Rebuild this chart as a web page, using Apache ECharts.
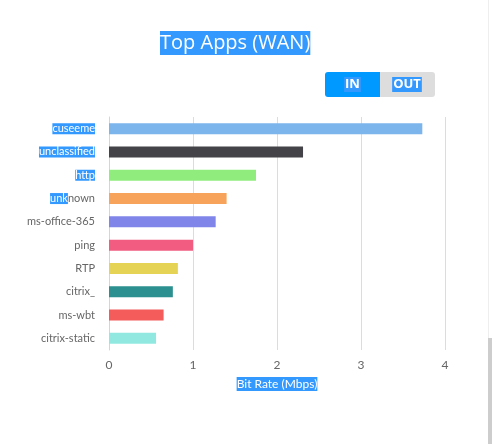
<!DOCTYPE html>
<html>
<head>
<meta charset="utf-8">
<script src="https://cdn.jsdelivr.net/npm/echarts@6/dist/echarts.min.js"></script>
<style>
html,body{margin:0;padding:0;background:#fff;}
#chart{width:492px;height:444px;}
</style>
</head>
<body>
<div id="chart"></div>
<script>
var categories = ['cuseeme', 'unclassified', 'http', 'unknown', 'ms-office-365', 'ping', 'RTP', 'citrix_', 'ms-wbt', 'citrix-static'];
var values = [3.73, 2.31, 1.75, 1.40, 1.27, 1.00, 0.82, 0.76, 0.65, 0.56];
var barColors = ['#7cb5ec', '#434348', '#90ed7d', '#f7a35c', '#8085e9', '#f15c80', '#e4d354', '#2b908f', '#f45b5b', '#91e8e1'];
var xTicks = [0, 1, 2, 3, 4];

var SEL = '#3399ff';
var FONT = 'Lato';

var chart = echarts.init(document.getElementById('chart'), null, {renderer: 'canvas'});

function yLabel(v) {
  if (v === 'cuseeme' || v === 'unclassified' || v === 'http') return '{h|' + v + '}';
  if (v === 'unknown') return '{h|unk}{n|nown}';
  return '{n|' + v + '}';
}

chart.setOption({
  animation: false,
  grid: {left: 109, right: 47, top: 117, bottom: 94, containLabel: false},
  xAxis: {
    type: 'value',
    min: xTicks[0],
    max: xTicks[xTicks.length - 1],
    interval: 1,
    name: 'Bit Rate (Mbps)',
    nameLocation: 'middle',
    nameGap: 27,
    nameTextStyle: {color: '#fff', backgroundColor: SEL, fontFamily: FONT, fontSize: 12, lineHeight: 14, padding: [0, 0]},
    axisLine: {show: false},
    axisTick: {show: false},
    axisLabel: {color: '#666', fontFamily: FONT, fontSize: 12, margin: 9},
    splitLine: {lineStyle: {color: '#dcdcdc', width: 1}}
  },
  yAxis: {
    type: 'category',
    inverse: true,
    data: categories,
    axisLine: {lineStyle: {color: '#ccd6eb', width: 1}},
    axisTick: {length: 10, lineStyle: {color: '#ccd6eb'}},
    axisLabel: {
      margin: 14,
      formatter: yLabel,
      rich: {
        h: {color: '#fff', backgroundColor: SEL, fontFamily: FONT, fontSize: 11, lineHeight: 14},
        n: {color: '#666', fontFamily: FONT, fontSize: 11, lineHeight: 14}
      }
    },
    splitLine: {show: false}
  },
  series: [{
    type: 'bar',
    barWidth: 11,
    data: values.map(function (v, i) { return {value: v, itemStyle: {color: barColors[i]}}; })
  }],
  graphic: [
    {type: 'text', left: 160, top: 31, style: {text: 'Top Apps (WAN)', fill: '#fff', backgroundColor: SEL, font: '20px "Open Sans"', padding: [2, 0, 2, 0]}},
    {type: 'rect', shape: {x: 325, y: 72, width: 55, height: 25, r: [3, 0, 0, 3]}, style: {fill: '#0099ff'}},
    {type: 'rect', shape: {x: 380, y: 72, width: 55, height: 25, r: [0, 3, 3, 0]}, style: {fill: '#dddddd'}},
    {type: 'text', x: 352.5, y: 84.5, style: {text: 'IN', fill: '#fff', backgroundColor: SEL, font: 'bold 13px "Open Sans"', align: 'center', verticalAlign: 'middle', padding: [1, 1]}},
    {type: 'text', x: 407, y: 84.5, style: {text: 'OUT', fill: '#fff', backgroundColor: SEL, font: 'bold 13px "Open Sans"', align: 'center', verticalAlign: 'middle', padding: [1, 1]}},
    {type: 'rect', shape: {x: 488, y: 0, width: 1, height: 338}, style: {fill: '#eeeeee'}},
    {type: 'rect', shape: {x: 488, y: 338, width: 4, height: 106}, style: {fill: '#cdcdcd'}}
  ]
});
</script>
</body>
</html>
